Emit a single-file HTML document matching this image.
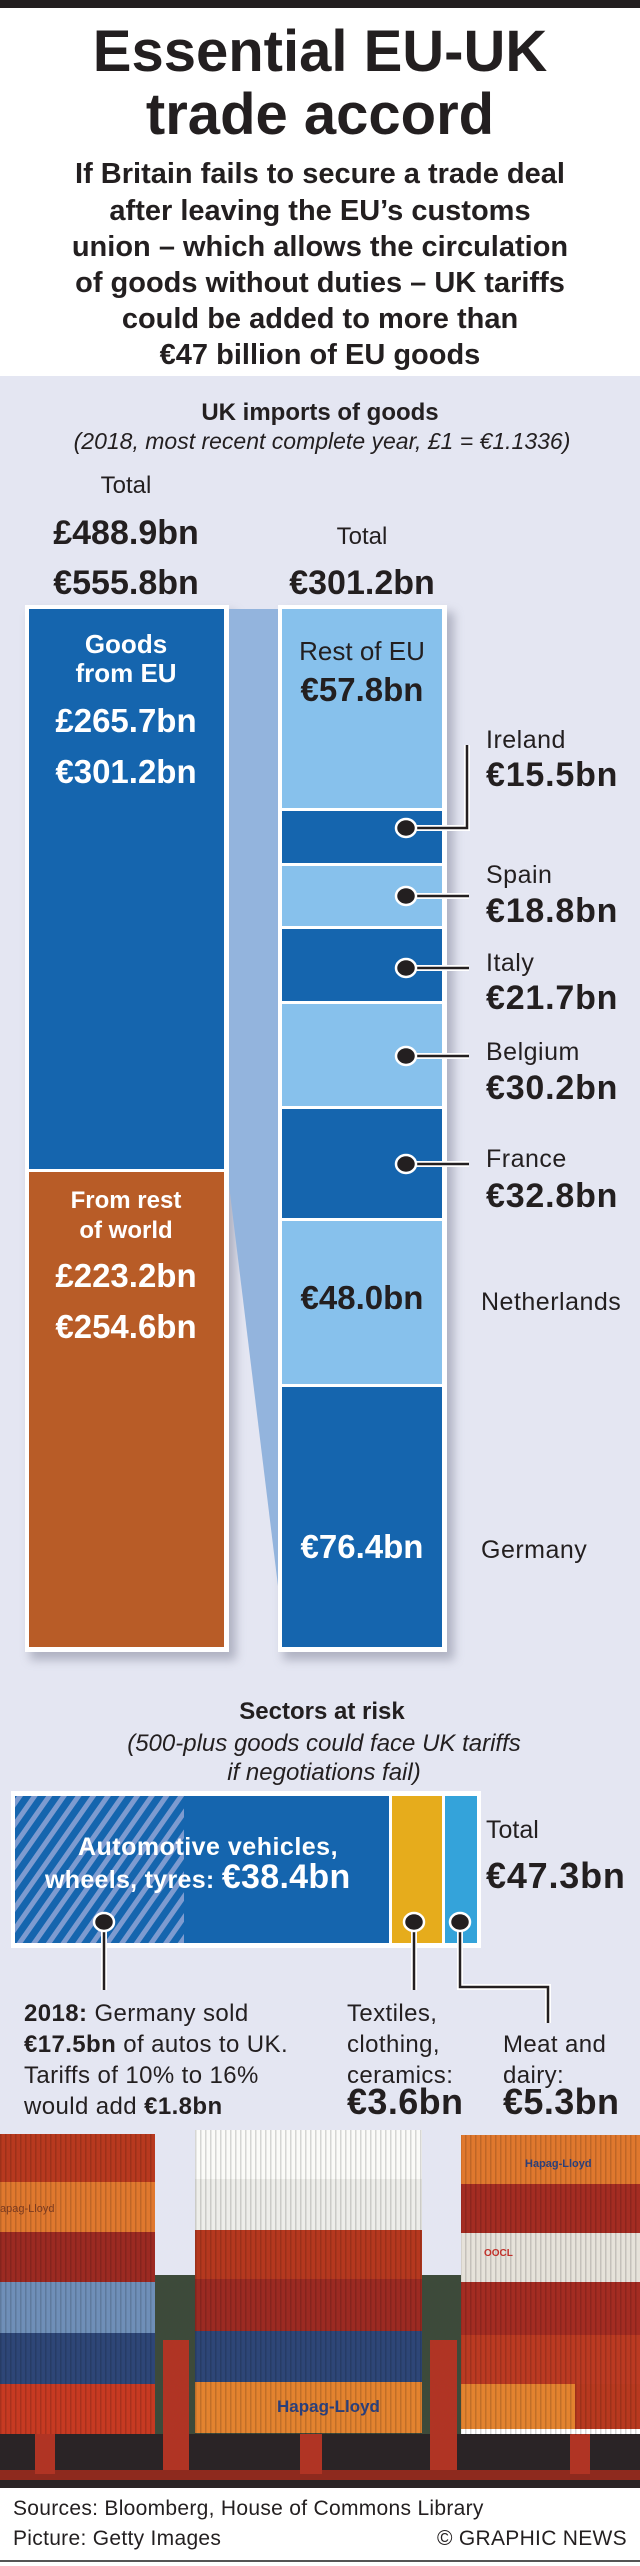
<!DOCTYPE html>
<html><head><meta charset="utf-8"><style>
html,body{margin:0;padding:0;background:#fff}
svg{display:block}
text{font-family:"Liberation Sans",Arial,sans-serif;fill:#231f20}
.b{font-weight:bold}
.w{fill:#fff}
</style></head><body>
<svg width="640" height="2566" viewBox="0 0 640 2566" xmlns="http://www.w3.org/2000/svg">
<defs>
<pattern id="hatch" width="12" height="12" patternUnits="userSpaceOnUse" patternTransform="rotate(35)">
<rect width="12" height="12" fill="#1565ae"/><rect width="5" height="12" fill="#7d9bd0"/>
</pattern>
<filter id="sh" x="-20%" y="-5%" width="140%" height="110%"><feGaussianBlur stdDeviation="5"/></filter>
<pattern id="corr" width="5" height="10" patternUnits="userSpaceOnUse"><rect width="5" height="10" fill="none"/><rect width="1.5" height="10" fill="#000" opacity="0.15"/></pattern>
</defs>
<rect width="640" height="2566" fill="#fff"/>
<rect width="640" height="8" fill="#231f20"/>
<g text-anchor="middle">
<text x="320" y="71" class="b" font-size="58">Essential EU-UK</text>
<text x="320" y="134" class="b" font-size="58">trade accord</text>
<g class="b" font-size="29">
<text x="320" y="183">If Britain fails to secure a trade deal</text>
<text x="320" y="220">after leaving the EU’s customs</text>
<text x="320" y="256">union – which allows the circulation</text>
<text x="320" y="292">of goods without duties – UK tariffs</text>
<text x="320" y="328">could be added to more than</text>
<text x="320" y="364">€47 billion of EU goods</text>
</g>
</g>
<rect x="0" y="376" width="640" height="1900" fill="#e4e6f2"/>
<g text-anchor="middle">
<text x="320" y="420" class="b" font-size="24">UK imports of goods</text>
<text x="322" y="449" font-size="23" font-style="italic">(2018, most recent complete year, £1 = €1.1336)</text>
<text x="126" y="493" font-size="24">Total</text>
<text x="126" y="544" class="b" font-size="34">£488.9bn</text>
<text x="126" y="594" class="b" font-size="34">€555.8bn</text>
<text x="362" y="544" font-size="24">Total</text>
<text x="362" y="594" class="b" font-size="34">€301.2bn</text>
</g>
<rect x="30" y="612" width="206" height="1048" fill="#9a9cae" filter="url(#sh)" opacity="0.7"/>
<rect x="283" y="612" width="171" height="1048" fill="#9a9cae" filter="url(#sh)" opacity="0.7"/>
<polygon points="229,609 278,609 278,1586 229,1185" fill="#93b4dd"/>
<rect x="25" y="605" width="204" height="1047" fill="#fff"/>
<rect x="29" y="609" width="195" height="560" fill="#1565ae"/>
<rect x="29" y="1172" width="195" height="475" fill="#b85c27"/>
<rect x="278" y="605" width="169" height="1047" fill="#fff"/>
<rect x="282" y="609" width="160" height="199" fill="#87c1ec"/>
<rect x="282" y="811" width="160" height="52" fill="#1565ae"/>
<rect x="282" y="866" width="160" height="60" fill="#87c1ec"/>
<rect x="282" y="929" width="160" height="72" fill="#1565ae"/>
<rect x="282" y="1004" width="160" height="102" fill="#87c1ec"/>
<rect x="282" y="1109" width="160" height="109" fill="#1565ae"/>
<rect x="282" y="1221" width="160" height="163" fill="#87c1ec"/>
<rect x="282" y="1387" width="160" height="260" fill="#1565ae"/>
<g text-anchor="middle">
<text x="126" y="653" class="b w" font-size="26">Goods</text>
<text x="126" y="682" class="b w" font-size="26">from EU</text>
<text x="126" y="732" class="b w" font-size="33">£265.7bn</text>
<text x="126" y="783" class="b w" font-size="33">€301.2bn</text>
<text x="126" y="1208" class="b w" font-size="24">From rest</text>
<text x="126" y="1238" class="b w" font-size="24">of world</text>
<text x="126" y="1287" class="b w" font-size="33">£223.2bn</text>
<text x="126" y="1338" class="b w" font-size="33">€254.6bn</text>
<text x="362" y="660" font-size="26">Rest of EU</text>
<text x="362" y="701" class="b" font-size="33">€57.8bn</text>
<text x="362" y="1309" class="b" font-size="33">€48.0bn</text>
<text x="362" y="1558" class="b w" font-size="33">€76.4bn</text>
</g>
<g stroke="#fff" stroke-width="6" fill="none">
<polyline points="406,828 467,828 467,745"/>
<line x1="406" y1="896" x2="469" y2="896"/>
<line x1="406" y1="968" x2="469" y2="968"/>
<line x1="406" y1="1056" x2="469" y2="1056"/>
<line x1="406" y1="1164" x2="469" y2="1164"/>
</g>
<g stroke="#231f20" stroke-width="2.5" fill="none">
<polyline points="406,828 467,828 467,745"/>
<line x1="406" y1="896" x2="469" y2="896"/>
<line x1="406" y1="968" x2="469" y2="968"/>
<line x1="406" y1="1056" x2="469" y2="1056"/>
<line x1="406" y1="1164" x2="469" y2="1164"/>
</g>
<g fill="#231f20" stroke="#fff" stroke-width="2.5">
<ellipse cx="406" cy="828" rx="10" ry="9"/>
<ellipse cx="406" cy="896" rx="10" ry="9"/>
<ellipse cx="406" cy="968" rx="10" ry="9"/>
<ellipse cx="406" cy="1056" rx="10" ry="9"/>
<ellipse cx="406" cy="1164" rx="10" ry="9"/>
</g>
<g font-size="25" letter-spacing="0.5">
<text x="486" y="748">Ireland</text>
<text x="486" y="883">Spain</text>
<text x="486" y="971">Italy</text>
<text x="486" y="1060">Belgium</text>
<text x="486" y="1167">France</text>
<text x="481" y="1310">Netherlands</text>
<text x="481" y="1558">Germany</text>
</g>
<g class="b" font-size="34" letter-spacing="0.8">
<text x="486" y="786">€15.5bn</text>
<text x="486" y="922">€18.8bn</text>
<text x="486" y="1009">€21.7bn</text>
<text x="486" y="1099">€30.2bn</text>
<text x="486" y="1207">€32.8bn</text>
</g>
<g text-anchor="middle">
<text x="322" y="1719" class="b" font-size="24">Sectors at risk</text>
<text x="324" y="1751" font-size="24" font-style="italic">(500-plus goods could face UK tariffs</text>
<text x="324" y="1780" font-size="24" font-style="italic">if negotiations fail)</text>
</g>
<rect x="11" y="1791" width="470" height="157" fill="#fff"/>
<rect x="15" y="1796" width="374" height="147" fill="#1565ae"/>
<rect x="15" y="1796" width="169" height="147" fill="url(#hatch)"/>
<rect x="392" y="1796" width="50" height="147" fill="#e6ac1c"/>
<rect x="445" y="1796" width="32" height="147" fill="#34a3da"/>
<text x="208" y="1855" text-anchor="middle" class="b w" font-size="25" letter-spacing="0.5">Automotive vehicles,</text>
<text x="45" y="1888" class="b w" font-size="25" letter-spacing="0.3">wheels, tyres: <tspan font-size="34">€38.4bn</tspan></text>
<text x="486" y="1838" font-size="25">Total</text>
<text x="486" y="1888" class="b" font-size="36" letter-spacing="0.8">€47.3bn</text>
<g stroke="#fff" stroke-width="6" fill="none">
<line x1="104" y1="1922" x2="104" y2="1990"/>
<line x1="414" y1="1922" x2="414" y2="1990"/>
<polyline points="460,1922 460,1987 548,1987 548,2023"/>
</g>
<g stroke="#231f20" stroke-width="2.5" fill="none">
<line x1="104" y1="1922" x2="104" y2="1990"/>
<line x1="414" y1="1922" x2="414" y2="1990"/>
<polyline points="460,1922 460,1987 548,1987 548,2023"/>
</g>
<g fill="#231f20" stroke="#fff" stroke-width="2.5">
<ellipse cx="104" cy="1922" rx="10" ry="9"/>
<ellipse cx="414" cy="1922" rx="10" ry="9"/>
<ellipse cx="460" cy="1922" rx="10" ry="9"/>
</g>
<g font-size="24" letter-spacing="0.4">
<text x="24" y="2021"><tspan class="b">2018:</tspan> Germany sold</text>
<text x="24" y="2052"><tspan class="b">€17.5bn</tspan> of autos to UK.</text>
<text x="24" y="2083">Tariffs of 10% to 16%</text>
<text x="24" y="2114">would add <tspan class="b">€1.8bn</tspan></text>
<text x="347" y="2021">Textiles,</text>
<text x="347" y="2052">clothing,</text>
<text x="347" y="2083">ceramics:</text>
<text x="347" y="2114" class="b" font-size="36">€3.6bn</text>
<text x="503" y="2052">Meat and</text>
<text x="503" y="2083">dairy:</text>
<text x="503" y="2114" class="b" font-size="36">€5.3bn</text>
</g>
<!-- photo -->
<rect x="155" y="2275" width="306" height="160" fill="#3d4a3a"/>
<rect x="0" y="2434" width="640" height="54" fill="#2a2426"/>
<rect x="0" y="2470" width="640" height="10" fill="#8e2a1e"/>
<rect x="163" y="2340" width="26" height="130" fill="#b03424"/>
<rect x="430" y="2340" width="27" height="130" fill="#b03424"/>
<rect x="35" y="2434" width="20" height="40" fill="#b03424"/>
<rect x="300" y="2434" width="22" height="40" fill="#b03424"/>
<rect x="570" y="2434" width="20" height="40" fill="#b03424"/>
<rect x="0" y="2134" width="155" height="48" fill="#b8391f"/>
<rect x="0" y="2182" width="155" height="50" fill="#e0782e"/>
<rect x="0" y="2232" width="155" height="50" fill="#9c2a22"/>
<rect x="0" y="2282" width="155" height="51" fill="#6f8fb8"/>
<rect x="0" y="2333" width="155" height="51" fill="#2e4677"/>
<rect x="0" y="2384" width="155" height="50" fill="#c73a22"/>
<rect x="195" y="2130" width="227" height="49" fill="#fbfbf8"/>
<rect x="195" y="2179" width="227" height="51" fill="#eeeeea"/>
<rect x="195" y="2230" width="227" height="49" fill="#b5381f"/>
<rect x="195" y="2279" width="227" height="52" fill="#9c2a22"/>
<rect x="195" y="2331" width="227" height="51" fill="#2e4677"/>
<rect x="195" y="2382" width="227" height="51" fill="#e3832f"/>
<rect x="461" y="2135" width="179" height="49" fill="#e0782e"/>
<rect x="461" y="2184" width="179" height="49" fill="#a42c22"/>
<rect x="461" y="2233" width="179" height="49" fill="#e6e2da"/>
<rect x="461" y="2282" width="179" height="53" fill="#a42c22"/>
<rect x="461" y="2335" width="179" height="49" fill="#bb3a22"/>
<rect x="461" y="2384" width="114" height="45" fill="#e3832f"/>
<rect x="575" y="2384" width="65" height="45" fill="#b8391f"/>
<rect x="0" y="2134" width="155" height="300" fill="url(#corr)"/>
<rect x="195" y="2130" width="227" height="304" fill="url(#corr)"/>
<rect x="461" y="2135" width="179" height="300" fill="url(#corr)"/>
<text x="277" y="2412" font-size="17" style="fill:#2a3f7a" class="b">Hapag-Lloyd</text>
<text x="525" y="2167" font-size="11" style="fill:#2a3f7a" class="b">Hapag-Lloyd</text>
<text x="0" y="2212" font-size="11" style="fill:#7a3a20">apag-Lloyd</text>
<text x="484" y="2256" font-size="10" style="fill:#c0302a" class="b">OOCL</text>
<rect x="0" y="2488" width="640" height="78" fill="#fff"/>
<text x="13" y="2515" font-size="21" letter-spacing="0.3">Sources: Bloomberg, House of Commons Library</text>
<text x="13" y="2545" font-size="21" letter-spacing="0.3">Picture: Getty Images</text>
<text x="627" y="2545" font-size="21" text-anchor="end" letter-spacing="0.3">© GRAPHIC NEWS</text>
<rect x="0" y="2560" width="640" height="2" fill="#555"/>
</svg>
</body></html>
